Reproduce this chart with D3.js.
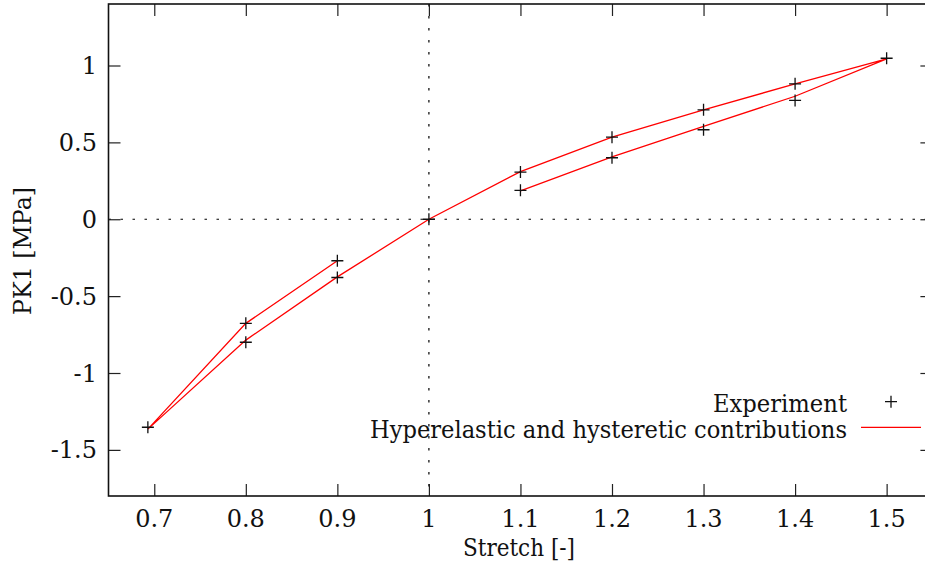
<!DOCTYPE html>
<html>
<head>
<meta charset="utf-8">
<script src="https://cdn.jsdelivr.net/npm/d3@7"></script>
<style>
  html, body { margin: 0; padding: 0; background: #fff; }
  svg { display: block; }
</style>
</head>
<body>
<svg id="chart" width="925" height="567"></svg>
<script>
// ---- data ----
const xTicks = [0.7, 0.8, 0.9, 1.0, 1.1, 1.2, 1.3, 1.4, 1.5];
const xTickLabels = ["0.7", "0.8", "0.9", "1", "1.1", "1.2", "1.3", "1.4", "1.5"];
const yTicks = [-1.5, -1, -0.5, 0, 0.5, 1];
const yTickLabels = ["-1.5", "-1", "-0.5", "0", "0.5", "1"];

// Experiment points (stretch, PK1 in MPa)
const expStretch = [0.693, 0.8, 0.8, 0.9, 0.9, 1.0, 1.1, 1.1, 1.2, 1.2, 1.3, 1.3, 1.4, 1.4, 1.5];
const expPK1     = [-1.353, -0.677, -0.80, -0.27, -0.379, 0, 0.307, 0.188, 0.534, 0.40, 0.712, 0.582, 0.881, 0.773, 1.047];

// Model: hyperelastic and hysteretic contributions (one continuous path)
const modelStretch = [0.9, 0.8, 0.693, 0.8, 0.9, 1.0, 1.1, 1.2, 1.3, 1.4, 1.5, 1.4, 1.3, 1.2, 1.1];
const modelPK1     = [-0.27, -0.677, -1.365, -0.786, -0.375, 0, 0.31, 0.534, 0.712, 0.88, 1.043, 0.80, 0.604, 0.405, 0.184];

const xLabel = "Stretch [-]";
const yLabel = "PK1 [MPa]";
const legendLabels = ["Experiment", "Hyperelastic and hysteretic contributions"];

// ---- layout ----
const FONT = "DejaVu Serif";
const L = 108.5, R = 932.4, T = 4, B = 496;
const svg = d3.select("#chart");
const x = d3.scaleLinear().domain([0.65, 1.55]).range([L, R]);
const y = d3.scaleLinear().domain([-1.8, 1.4]).range([B, T]);
const FS = 24;
const tickLen = 12;

function txt(sel) {
  return sel.attr("font-family", FONT).attr("font-size", FS).attr("fill", "#111");
}

// zero lines (dotted)
svg.append("line")
  .attr("x1", L).attr("x2", R).attr("y1", y(0)).attr("y2", y(0))
  .attr("stroke", "#000").attr("stroke-width", 1.2).attr("stroke-dasharray", "2.5,9.5");
svg.append("line")
  .attr("x1", x(1)).attr("x2", x(1)).attr("y1", T).attr("y2", B)
  .attr("stroke", "#000").attr("stroke-width", 1.2).attr("stroke-dasharray", "2.5,9.5");

// axes with inward ticks on all sides
const axB = d3.axisBottom(x).tickValues(xTicks).tickSize(tickLen).tickFormat("");
const axT = d3.axisTop(x).tickValues(xTicks).tickSize(tickLen).tickFormat("");
const axLft = d3.axisLeft(y).tickValues(yTicks).tickSize(tickLen).tickFormat("");
const axRt = d3.axisRight(y).tickValues(yTicks).tickSize(tickLen).tickFormat("");

function styleAxis(g) {
  g.select(".domain").remove();
  g.selectAll(".tick line").attr("stroke", "#222").attr("stroke-width", 1.2);
}
svg.append("g").attr("transform", `translate(0,${B - tickLen})`).call(axB).call(styleAxis);
svg.append("g").attr("transform", `translate(0,${T + tickLen})`).call(axT).call(styleAxis);
svg.append("g").attr("transform", `translate(${L + tickLen},0)`).call(axLft).call(styleAxis);
svg.append("g").attr("transform", `translate(${R - tickLen},0)`).call(axRt).call(styleAxis);

// tick labels
svg.append("g").selectAll("text").data(xTicks).join("text")
  .call(txt)
  .attr("x", d => x(d)).attr("y", 527)
  .attr("text-anchor", "middle")
  .text((d, i) => xTickLabels[i]);
svg.append("g").selectAll("text").data(yTicks).join("text")
  .call(txt)
  .attr("x", 97).attr("y", d => y(d) + 8.5)
  .attr("text-anchor", "end")
  .text((d, i) => yTickLabels[i]);

// model line
const line = d3.line().x(d => x(d[0])).y(d => y(d[1]));
svg.append("path")
  .datum(modelStretch.map((s, i) => [s, modelPK1[i]]))
  .attr("d", line)
  .attr("fill", "none").attr("stroke", "#ff0000").attr("stroke-width", 1.3);

// experiment markers (+)
const pts = expStretch.map((s, i) => [s, expPK1[i]]);
const plus = d => `M${x(d[0]) - 6},${y(d[1])}h12M${x(d[0])},${y(d[1]) - 6}v12`;
svg.append("g").selectAll("path").data(pts).join("path")
  .attr("d", plus).attr("stroke", "#111").attr("stroke-width", 1.3).attr("fill", "none");

// frame
svg.append("rect")
  .attr("x", L).attr("y", T).attr("width", R - L).attr("height", B - T)
  .attr("fill", "none").attr("stroke", "#111").attr("stroke-width", 1.6);

// axis titles
svg.append("text").call(txt).attr("x", 519).attr("y", 556)
  .attr("text-anchor", "middle")
  .attr("textLength", 112).attr("lengthAdjust", "spacingAndGlyphs")
  .text(xLabel);
svg.append("text").call(txt).attr("transform", "translate(31,251) rotate(-90)")
  .attr("text-anchor", "middle")
  .attr("textLength", 128).attr("lengthAdjust", "spacingAndGlyphs")
  .text(yLabel);

// legend
svg.append("text").call(txt).attr("x", 847).attr("y", 412)
  .attr("text-anchor", "end")
  .attr("textLength", 134).attr("lengthAdjust", "spacingAndGlyphs")
  .text(legendLabels[0]);
svg.append("path")
  .attr("d", `M${891 - 6},401.7h12M891,${401.7 - 6}v12`)
  .attr("stroke", "#111").attr("stroke-width", 1.3);
svg.append("text").call(txt).attr("x", 847).attr("y", 438.3)
  .attr("text-anchor", "end")
  .attr("textLength", 477).attr("lengthAdjust", "spacingAndGlyphs")
  .text(legendLabels[1]);
svg.append("line").attr("x1", 861).attr("x2", 921).attr("y1", 427.3).attr("y2", 427.3)
  .attr("stroke", "#ff0000").attr("stroke-width", 1.3);
</script>
</body>
</html>
